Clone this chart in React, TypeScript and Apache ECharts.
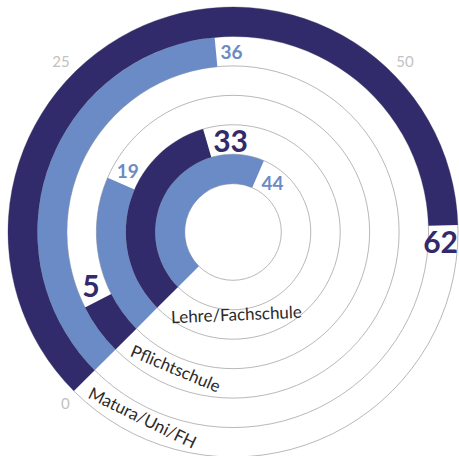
import { useEffect, useRef } from 'react';
import * as echarts from 'echarts';

const categories = ['Lehre/Fachschule', 'Pflichtschule', 'Matura/Uni/FH'];
const lightValues = [44, 19, 36];
const darkValues = [33, 5, 62];
const angleTickLabels = [0, 25, 50];

const DARK = '#312b6c';
const LIGHT = '#6a8bc5';
const CX = 233;
const CY = 232;
const R_IN = 48.3;
const R_OUT = 225;
const START = 225;
const MAX = 100;
const FONT = 'Lato, "Noto Sans", sans-serif';

export default function App() {
  const ref = useRef<HTMLDivElement>(null);

  useEffect(() => {
    if (!ref.current) return;
    const chart = echarts.init(ref.current, undefined, { renderer: 'svg' });

    const slots: string[] = [];
    const lightData: any[] = [];
    const darkData: any[] = [];
    categories.forEach((c, i) => {
      slots.push(c + '#light', c + '#dark');
      lightData.push(lightValues[i], '-');
      darkData.push('-', darkValues[i]);
    });

    const ringW = (R_OUT - R_IN) / slots.length;
    const canvas = document.createElement('canvas');
    const ctx = canvas.getContext('2d')!;

    // category labels along the rings
    const labelFontSize = 17;
    ctx.font = `${labelFontSize}px Lato`;
    const gap = 11;
    const catGraphics = categories.map((c, i) => {
      const r = R_IN + ringW * (2 * i + 1.5);
      const w = ctx.measureText(c).width;
      const half = w / 2;
      const thetaDeg = START + ((gap + half) / r) * (180 / Math.PI);
      const rc = r - (Math.sqrt(r * r + half * half) - r) / 2;
      const t = (thetaDeg * Math.PI) / 180;
      return {
        type: 'text',
        x: CX + rc * Math.cos(t),
        y: CY - rc * Math.sin(t),
        rotation: ((thetaDeg - 270) * Math.PI) / 180,
        z: 100,
        style: {
          text: c,
          font: `${labelFontSize}px ${FONT}`,
          fill: '#2b2b2b',
          textAlign: 'center',
          textVerticalAlign: 'middle',
          align: 'center',
          verticalAlign: 'middle',
        },
      };
    });

    // value labels just beyond each bar end
    const valueGraphics: any[] = [];
    const addValueLabel = (v: number, slot: number, color: string, size: number) => {
      const text = String(v);
      ctx.font = `bold ${size}px Lato`;
      const w = ctx.measureText(text).width;
      const h = size * 0.72;
      const r = R_IN + ringW * (slot + 0.5);
      const endDeg = START - (v / MAX) * 360;
      const e = (endDeg * Math.PI) / 180;
      const ext = (w / 2) * Math.abs(Math.sin(e)) + (h / 2) * Math.abs(Math.cos(e));
      const c = e - (ext + 4) / r;
      let x = CX + r * Math.cos(c);
      const y = CY - r * Math.sin(c);
      x = Math.min(x, 458 - w / 2);
      valueGraphics.push({
        type: 'text',
        x,
        y,
        z: 100,
        style: {
          text,
          font: `bold ${size}px ${FONT}`,
          fill: color,
          textAlign: 'center',
          textVerticalAlign: 'middle',
          align: 'center',
          verticalAlign: 'middle',
        },
      });
    };
    categories.forEach((_, i) => {
      addValueLabel(lightValues[i], 2 * i, LIGHT, 19);
      addValueLabel(darkValues[i], 2 * i + 1, DARK, 30);
    });

    chart.setOption({
      animation: false,
      polar: {
        center: [CX, CY],
        radius: [R_IN, R_OUT],
      },
      angleAxis: {
        type: 'value',
        min: 0,
        max: MAX,
        interval: 25,
        startAngle: START,
        clockwise: true,
        axisLine: { show: false },
        axisTick: { show: false },
        splitLine: { show: false },
        axisLabel: {
          margin: 6,
          color: '#c2c2c2',
          fontSize: 15,
          fontFamily: FONT,
          formatter: (v: number) => (angleTickLabels.includes(v) ? String(v) : ''),
        },
      },
      radiusAxis: {
        type: 'category',
        data: slots,
        axisLine: { show: false },
        axisTick: { show: false, interval: 0 },
        axisLabel: { show: false, interval: 0 },
        splitLine: { show: true, interval: 0, lineStyle: { color: '#a6a6a6', width: 0.8 } },
      },
      series: [
        {
          type: 'bar',
          coordinateSystem: 'polar',
          data: lightData,
          barGap: '-100%',
          barCategoryGap: '0%',
          itemStyle: { color: LIGHT },
        },
        {
          type: 'bar',
          coordinateSystem: 'polar',
          data: darkData,
          barGap: '-100%',
          barCategoryGap: '0%',
          itemStyle: { color: DARK },
        },
      ],
      graphic: [...catGraphics, ...valueGraphics],
    });

    return () => chart.dispose();
  }, []);

  return (
    <div
      ref={ref}
      style={{ position: 'absolute', left: 0, top: 0, width: 459, height: 456 }}
    />
  );
}
